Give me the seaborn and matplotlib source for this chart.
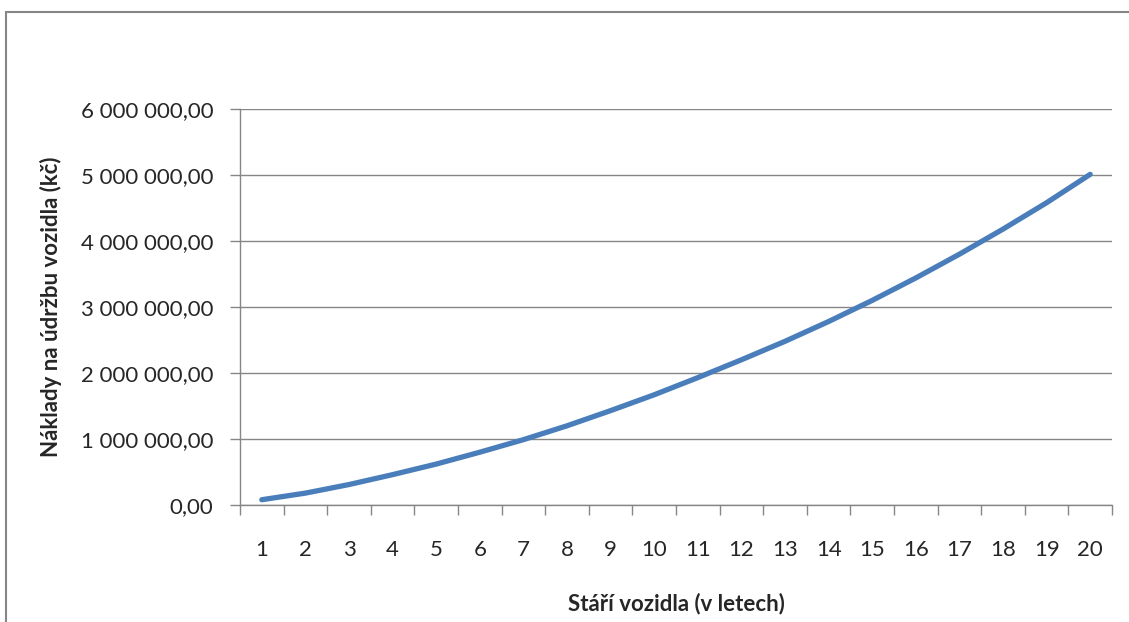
import pandas as pd
import matplotlib
matplotlib.use("Agg")
import matplotlib.pyplot as plt
import matplotlib.ticker as mticker
from matplotlib.patches import Rectangle
import seaborn as sns

# Data
vehicle_age = list(range(1, 21))
maintenance_cost = [80000, 180000, 310000, 460000, 620000, 800000, 990000, 1200000,
                    1430000, 1670000, 1930000, 2200000, 2480000, 2780000, 3100000,
                    3440000, 3800000, 4180000, 4580000, 5010000]
y_ticks = [0, 1000000, 2000000, 3000000, 4000000, 5000000, 6000000]

x_label = "Stáří vozidla (v letech)"
y_label = "Náklady na údržbu vozidla (kč)"

df = pd.DataFrame({"age": vehicle_age, "cost": maintenance_cost})

sns.set_style("white")
plt.rcParams["font.family"] = ["Lato", "DejaVu Sans"]

fig = plt.figure(figsize=(11.29, 6.22), dpi=100)
ax = fig.add_axes([240 / 1129, 117 / 622, 872 / 1129, 396 / 622])

sns.lineplot(data=df, x="age", y="cost", ax=ax, color="#4A7EBB", linewidth=3.8,
             solid_capstyle="round")

grid_c = "#868686"
fs = 16
ax.set_xlim(0.5, 20.5)
ax.set_ylim(0, 6000000)
ax.set_yticks(y_ticks)
ax.yaxis.set_major_formatter(mticker.FuncFormatter(
    lambda v, p: f"{v:,.2f}".replace(",", " ").replace(".", ",")))
ax.yaxis.grid(True, color=grid_c, linewidth=1)
ax.set_axisbelow(True)

# category axis: ticks between categories, labels centred
ax.xaxis.set_major_locator(mticker.FixedLocator([i + 0.5 for i in range(0, 21)]))
ax.xaxis.set_major_formatter(mticker.NullFormatter())
ax.xaxis.set_minor_locator(mticker.FixedLocator(vehicle_age))
ax.xaxis.set_minor_formatter(mticker.FixedFormatter([str(a) for a in vehicle_age]))
ax.tick_params(axis="x", which="both", bottom=True)
ax.tick_params(axis="x", which="major", length=7, color=grid_c, width=1, direction="out")
ax.tick_params(axis="x", which="minor", length=0, pad=25, labelsize=fs)
ax.tick_params(axis="y", left=True, length=7, color=grid_c, width=1, direction="out",
               pad=12, labelsize=fs)

for s in ["top", "right"]:
    ax.spines[s].set_visible(False)
for s in ["left", "bottom"]:
    ax.spines[s].set_color(grid_c)
    ax.spines[s].set_linewidth(1)

ax.set_xlabel(x_label, fontsize=fs, fontweight="bold", labelpad=24)
ax.set_ylabel(y_label, fontsize=fs, fontweight="bold", labelpad=14)

# outer chart border
fig.patches.append(Rectangle((6 / 1129, -0.05), 1.2, (622 - 12) / 622 + 0.05,
                             transform=fig.transFigure, fill=False,
                             edgecolor="#868686", linewidth=1.5))

fig.savefig("out.png", dpi=100)
